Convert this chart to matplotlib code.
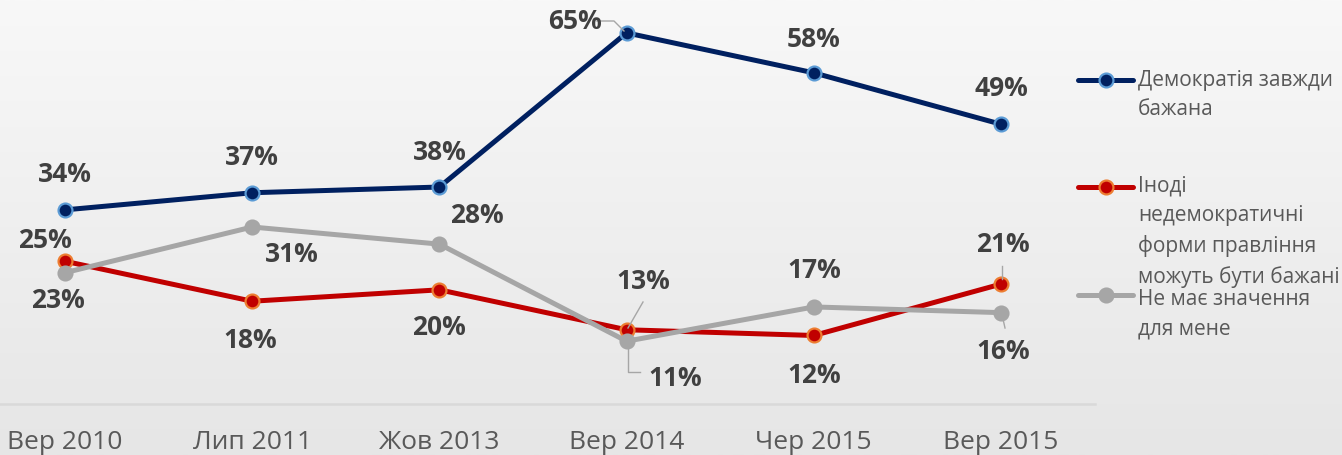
import numpy as np
import matplotlib
matplotlib.use("Agg")
import matplotlib.pyplot as plt
from matplotlib.lines import Line2D
from matplotlib.colors import LinearSegmentedColormap

categories = ["Вер 2010", "Лип 2011", "Жов 2013", "Вер 2014", "Чер 2015", "Вер 2015"]
democracy = [34, 37, 38, 65, 58, 49]
nondemocratic = [25, 18, 20, 13, 12, 21]
no_matter = [23, 31, 28, 11, 17, 16]
series_names = ["Демократія завжди\nбажана",
                "Іноді\nнедемократичні\nформи правління\nможуть бути бажані",
                "Не має значення\nдля мене"]

FONT = ["Liberation Sans Narrow", "Open Sans", "DejaVu Sans"]
plt.rcParams["font.family"] = FONT

W, H = 1342, 455
fig = plt.figure(figsize=(W / 100, H / 100), dpi=100)

# background gradient
bg = fig.add_axes([0, 0, 1, 1], zorder=-10)
grad = np.linspace(0, 1, 256).reshape(-1, 1)
cmap = LinearSegmentedColormap.from_list("bg", ["#f8f8f8", "#e6e6e6"])
bg.imshow(grad, aspect="auto", cmap=cmap, extent=[0, 1, 0, 1], origin="upper")
bg.axis("off")

# plot axes: category centers at x=65 .. 1001 px, 0% at y=404px
step = (1001 - 65) / 5
left_px = 65 - step / 2
right_px = 1001 + step / 2
ymax = 70
py0 = 404
pxper = (210 - 33) / (65 - 34)
top_px = py0 - ymax * pxper
ax = fig.add_axes([left_px / W, 1 - py0 / H, (right_px - left_px) / W, (py0 - top_px) / H])
ax.set_xlim(-0.5, 5.5)
ax.set_ylim(0, ymax)
ax.patch.set_alpha(0)
for s in ["top", "right", "left"]:
    ax.spines[s].set_visible(False)
ax.spines["bottom"].set_color("#d9d9d9")
ax.spines["bottom"].set_linewidth(1.8)
ax.set_yticks([])
x = np.arange(len(categories))
ax.set_xticks(x)
ax.set_xticklabels(categories, fontsize=19, color="#595959")
ax.tick_params(axis="x", length=0, pad=19)

styles = [
    (democracy, "#002060", "#5b9bd5", "#002060"),
    (nondemocratic, "#c00000", "#ed7d31", "#c00000"),
    (no_matter, "#a6a6a6", "#a6a6a6", "#a6a6a6"),
]
for vals, lc, ec, fc in styles:
    ax.plot(x, vals, color=lc, lw=3.6, marker="o", ms=10, mfc=fc, mec=ec, mew=1.6,
            solid_capstyle="round", clip_on=False, zorder=3)

# data labels (offsets in points)
lab_kw = dict(fontsize=19, fontweight="bold", color="#404040", ha="center", va="center",
              textcoords="offset points", annotation_clip=False)
def px2pt(dx, dy):
    return (dx * 0.72, -dy * 0.72)

blue_off = [(0, -35), (0, -35), (0, -35), (-52, -11), (0, -33), (0, -36)]
red_off = [(-20, -21), (-2, 39), (0, 38), (17, -48), (0, 40), (2, -40)]
gray_off = [(-7, 28), (40, 28), (37, -29), (49, 37), (0, -36), (2, 39)]
for vals, offs in [(democracy, blue_off), (nondemocratic, red_off), (no_matter, gray_off)]:
    for i, v in enumerate(vals):
        ax.annotate(f"{v}%", (x[i], v), xytext=px2pt(*offs[i]), zorder=5, **lab_kw)

# leader lines (in data coords derived from pixel positions)
def pxx(px):
    return (px - left_px) / step - 0.5
def pxy(py):
    return (py0 - py) / pxper
lead = dict(color="#a6a6a6", lw=1.0, zorder=4, clip_on=False)
ax.plot([pxx(597), pxx(614), pxx(624)], [pxy(21), pxy(21), pxy(31)], **lead)
ax.plot([pxx(643), pxx(628)], [pxy(302), pxy(328)], **lead)
ax.plot([pxx(628), pxx(628), pxx(640)], [pxy(343), pxy(372), pxy(372)], **lead)
ax.plot([pxx(1002), pxx(1002)], [pxy(266), pxy(279)], **lead)
ax.plot([pxx(1003), pxx(1005)], [pxy(319), pxy(328)], **lead)

# legend drawn manually
leg_y = [80, 187, 295]
text_top = [70, 176, 289]
for (vals, lc, ec, fc), yy, ty, name in zip(styles, leg_y, text_top, series_names):
    fy = 1 - yy / H
    fig.add_artist(Line2D([1078 / W, 1133 / W], [fy, fy], color=lc, lw=3.6,
                          solid_capstyle="round", transform=fig.transFigure))
    fig.add_artist(Line2D([1105.5 / W], [fy], marker="o", ms=10, mfc=fc, mec=ec, mew=1.6,
                          transform=fig.transFigure))
    fig.text(1138 / W, 1 - ty / H, name, fontsize=15, color="#595959", ha="left",
             va="top", linespacing=1.52, transform=fig.transFigure)

fig.savefig("out.png", dpi=100)
